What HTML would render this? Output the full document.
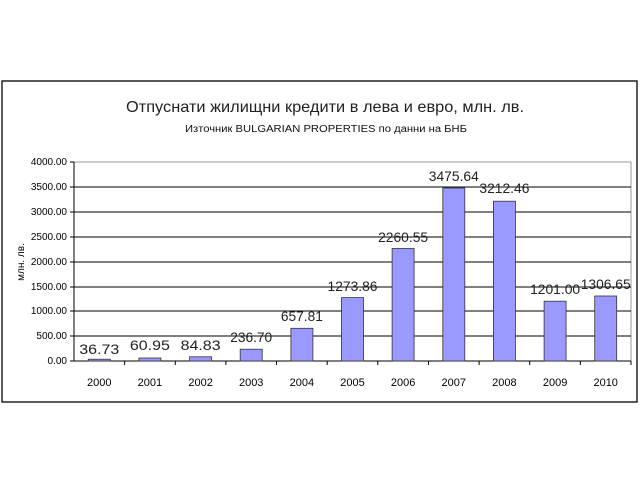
<!DOCTYPE html>
<html><head><meta charset="utf-8"><style>
html,body{margin:0;padding:0;background:#fff}
svg{display:block}
text{font-family:"Liberation Sans","DejaVu Sans",sans-serif}
</style></head><body>
<svg width="640" height="480" viewBox="0 0 640 480" xmlns="http://www.w3.org/2000/svg">
<rect x="2" y="81" width="635" height="321" fill="#fff" stroke="#000" stroke-width="1.3"/>
<text x="325" y="112" font-size="16" text-anchor="middle" fill="#222" textLength="398" lengthAdjust="spacingAndGlyphs">Отпуснати жилищни кредити в лева и евро, млн. лв.</text>
<text x="326" y="132" font-size="10" text-anchor="middle" fill="#111" textLength="282" lengthAdjust="spacingAndGlyphs">Източник BULGARIAN PROPERTIES по данни на БНБ</text>
<g stroke="#000" stroke-width="1">
<line x1="74" y1="162" x2="631" y2="162" stroke="#999"/>
<line x1="631" y1="162" x2="631" y2="361" stroke="#999"/>
<line x1="74" y1="187" x2="631" y2="187"/>
<line x1="74" y1="212" x2="631" y2="212"/>
<line x1="74" y1="237" x2="631" y2="237"/>
<line x1="74" y1="262" x2="631" y2="262"/>
<line x1="74" y1="287" x2="631" y2="287"/>
<line x1="74" y1="311" x2="631" y2="311"/>
<line x1="74" y1="336" x2="631" y2="336"/>
<line x1="74" y1="361" x2="631" y2="361"/>
<line x1="74" y1="162" x2="74" y2="361"/>
</g>
<g stroke="#000" stroke-width="1">
<line x1="70" y1="162" x2="74" y2="162"/><line x1="70" y1="187" x2="74" y2="187"/><line x1="70" y1="212" x2="74" y2="212"/><line x1="70" y1="237" x2="74" y2="237"/><line x1="70" y1="262" x2="74" y2="262"/><line x1="70" y1="287" x2="74" y2="287"/><line x1="70" y1="311" x2="74" y2="311"/><line x1="70" y1="336" x2="74" y2="336"/><line x1="70" y1="361" x2="74" y2="361"/>
<line x1="124.6" y1="361" x2="124.6" y2="365"/><line x1="175.3" y1="361" x2="175.3" y2="365"/><line x1="225.9" y1="361" x2="225.9" y2="365"/><line x1="276.5" y1="361" x2="276.5" y2="365"/><line x1="327.2" y1="361" x2="327.2" y2="365"/><line x1="377.8" y1="361" x2="377.8" y2="365"/><line x1="428.5" y1="361" x2="428.5" y2="365"/><line x1="479.1" y1="361" x2="479.1" y2="365"/><line x1="529.7" y1="361" x2="529.7" y2="365"/><line x1="580.4" y1="361" x2="580.4" y2="365"/><line x1="631" y1="361" x2="631" y2="365"/>
</g>
<g font-size="10" text-anchor="end" fill="#000">
<text x="67" y="165">4000.00</text><text x="67" y="190">3500.00</text><text x="67" y="215">3000.00</text><text x="67" y="240">2500.00</text><text x="67" y="265">2000.00</text><text x="67" y="290">1500.00</text><text x="67" y="314">1000.00</text><text x="67" y="339">500.00</text><text x="67" y="364">0.00</text>
</g>
<text transform="translate(24,262) rotate(-90)" font-size="10" text-anchor="middle" fill="#000">млн. лв.</text>
<g fill="#9999ff" stroke="#333" stroke-width="0.8">
<rect x="88.3" y="359.2" width="22" height="1.8"/>
<rect x="138.9" y="358" width="22" height="3"/>
<rect x="189.6" y="356.8" width="22" height="4.2"/>
<rect x="240.2" y="349.2" width="22" height="11.8"/>
<rect x="290.9" y="328.3" width="22" height="32.7"/>
<rect x="341.5" y="297.6" width="22" height="63.4"/>
<rect x="392.1" y="248.5" width="22" height="112.5"/>
<rect x="442.8" y="188" width="22" height="173"/>
<rect x="493.4" y="201.2" width="22" height="159.8"/>
<rect x="544.1" y="301.2" width="22" height="59.8"/>
<rect x="594.7" y="296" width="22" height="65"/>
</g>
<g font-size="14" text-anchor="middle" fill="#222">
<text x="99.3" y="354" textLength="40" lengthAdjust="spacingAndGlyphs">36.73</text>
<text x="149.9" y="350" textLength="40" lengthAdjust="spacingAndGlyphs">60.95</text>
<text x="200.6" y="350" textLength="40" lengthAdjust="spacingAndGlyphs">84.83</text>
<text x="251.2" y="342" textLength="42" lengthAdjust="spacingAndGlyphs">236.70</text>
<text x="301.9" y="321" textLength="42" lengthAdjust="spacingAndGlyphs">657.81</text>
<text x="352.5" y="291" textLength="50" lengthAdjust="spacingAndGlyphs">1273.86</text>
<text x="403.1" y="242" textLength="50" lengthAdjust="spacingAndGlyphs">2260.55</text>
<text x="453.8" y="181" textLength="50" lengthAdjust="spacingAndGlyphs">3475.64</text>
<text x="504.4" y="193" textLength="50" lengthAdjust="spacingAndGlyphs">3212.46</text>
<text x="555.1" y="294" textLength="50" lengthAdjust="spacingAndGlyphs">1201.00</text>
<text x="605.7" y="289" textLength="50" lengthAdjust="spacingAndGlyphs">1306.65</text>
</g>
<g font-size="11" text-anchor="middle" fill="#000">
<text x="99.3" y="386">2000</text><text x="149.9" y="386">2001</text><text x="200.6" y="386">2002</text><text x="251.2" y="386">2003</text><text x="301.9" y="386">2004</text><text x="352.5" y="386">2005</text><text x="403.1" y="386">2006</text><text x="453.8" y="386">2007</text><text x="504.4" y="386">2008</text><text x="555.1" y="386">2009</text><text x="605.7" y="386">2010</text>
</g>
</svg>
</body></html>
